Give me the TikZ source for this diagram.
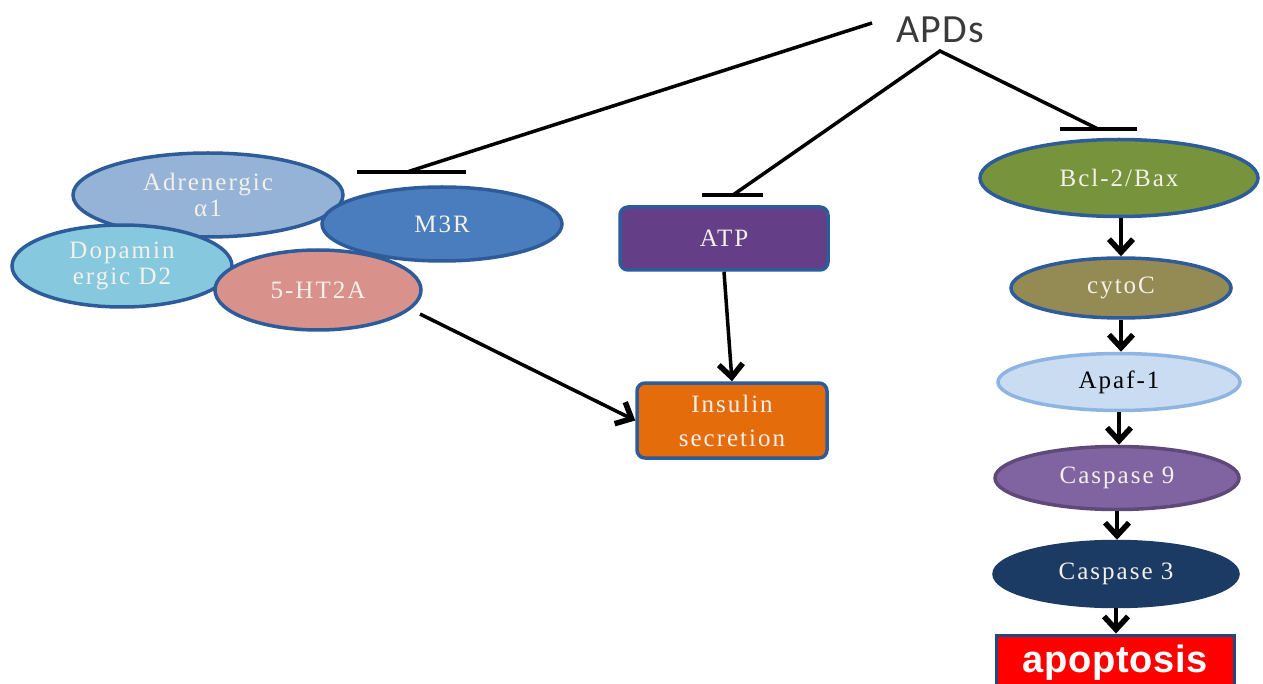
\documentclass[tikz,border=0pt]{standalone}
\usepackage{fontspec}
\setmainfont{Liberation Serif}[LetterSpace=8]
\newfontfamily\calib{Carlito}[LetterSpace=3]
\newfontfamily\arialb{Liberation Sans}[LetterSpace=2]
\usetikzlibrary{shapes.geometric,arrows.meta}
\definecolor{bordblue}{HTML}{2E5C9A}
\definecolor{adrfill}{HTML}{95B3D7}
\definecolor{m3fill}{HTML}{4A7DBD}
\definecolor{dopfill}{HTML}{86C8DE}
\definecolor{htfill}{HTML}{D9918C}
\definecolor{atpfill}{HTML}{653E88}
\definecolor{insfill}{HTML}{E46C0A}
\definecolor{bclfill}{HTML}{77933C}
\definecolor{cytfill}{HTML}{948A54}
\definecolor{apaffill}{HTML}{C9DCF2}
\definecolor{apafbord}{HTML}{8EB4E3}
\definecolor{c9fill}{HTML}{8064A2}
\definecolor{c9bord}{HTML}{5F497A}
\definecolor{c3fill}{HTML}{1B3B64}
\definecolor{apofill}{HTML}{FF0000}
\definecolor{apobord}{HTML}{1F497D}
\definecolor{txtlight}{HTML}{F4F1EA}
\definecolor{apdtext}{HTML}{3A3A3A}
\tikzset{
  ell/.style={ellipse, draw=bordblue, line width=3.5pt, inner sep=0pt, text=txtlight, align=center, font=\fontsize{25}{26}\selectfont},
  rbox/.style={rectangle, rounded corners=8pt, draw=bordblue, line width=3.5pt, inner sep=0pt, text=txtlight, align=center, font=\fontsize{25}{34}\selectfont},
  conn/.style={line width=3.5pt, black},
  inhib/.style={line width=4.5pt, black},
  act/.style={line width=3.5pt, black, -{Straight Barb[length=13pt,width=24pt,line width=5.5pt 0]}}
}
\begin{document}
\begin{tikzpicture}[x=1pt,y=-1pt]
\useasboundingbox[fill=white] (0,0) rectangle (1263,684);
% APDs
\node[font=\calib\fontsize{40}{44}\selectfont, text=apdtext] (apd) at (940,30) {APDs};
% left receptor cluster
\node[ell, fill=adrfill, minimum width=270pt, minimum height=84pt] (adr) at (208,195) {Adrenergic\\α1};
\node[ell, fill=m3fill, minimum width=240pt, minimum height=74pt] (m3r) at (442,224) {M3R};
\node[ell, fill=dopfill, minimum width=220pt, minimum height=82pt] (dop) at (122,266) {Dopamin\\ergic D2};
\node[ell, fill=htfill, minimum width=206pt, minimum height=80pt] (ht) at (318,290) {5-HT2A};
% middle
\node[rbox, fill=atpfill, minimum width=208pt, minimum height=63pt] (atp) at (724,238.5) {ATP};
\node[rbox, fill=insfill, minimum width=190pt, minimum height=75pt] (ins) at (732,420.5) {Insulin\\secretion};
% right cascade
\node[ell, fill=bclfill, minimum width=278pt, minimum height=77pt] (bcl) at (1119,178) {Bcl-2/Bax};
\node[ell, fill=cytfill, minimum width=220pt, minimum height=60pt] (cyt) at (1121,288) {cytoC};
\node[ell, fill=apaffill, draw=apafbord, text=black, minimum width=242pt, minimum height=57pt] (apaf) at (1119,382) {Apaf-1};
\node[ell, fill=c9fill, draw=c9bord, minimum width=244pt, minimum height=63pt] (c9) at (1117,478) {Caspase 9};
\node[ell, fill=c3fill, draw=c3fill, minimum width=244pt, minimum height=65pt] (c3) at (1116,574) {Caspase 3};
\node[rectangle, fill=apofill, draw=apobord, line width=3pt, minimum width=238pt, minimum height=56pt, inner sep=0pt, text=white, font=\arialb\bfseries\fontsize{38}{40}\selectfont] (apo) at (1115,663) {apoptosis};
% inhibition bars
\coordinate (barL) at (407,172);
\coordinate (barM) at (733,195);
\coordinate (barR) at (1098,129);
\draw[inhib] (357,172) -- (466,172);
\draw[inhib] (702,195) -- (763,195);
\draw[inhib] (1060,129) -- (1137,129);
\coordinate (apdL) at (872,23);
\coordinate (apdA) at (940,51);
\draw[conn] (apdL) -- (barL);
\draw[conn] (barM) -- (apdA) -- (barR);
% activation arrows
\coordinate (htout) at (420,314);
\draw[act] (htout) -- (ins.west);
\draw[act] (atp.south) -- (ins.north);
\draw[act] (cyt.north |- bcl.south) -- (cyt.north);
\draw[act] (cyt.south) -- (cyt.south |- apaf.north);
\draw[act] (apaf.south) -- (apaf.south |- c9.north);
\draw[act] (c9.south) -- (c9.south |- c3.north);
\draw[act] (c3.south) -- (c3.south |- apo.north);
\end{tikzpicture}
\end{document}
